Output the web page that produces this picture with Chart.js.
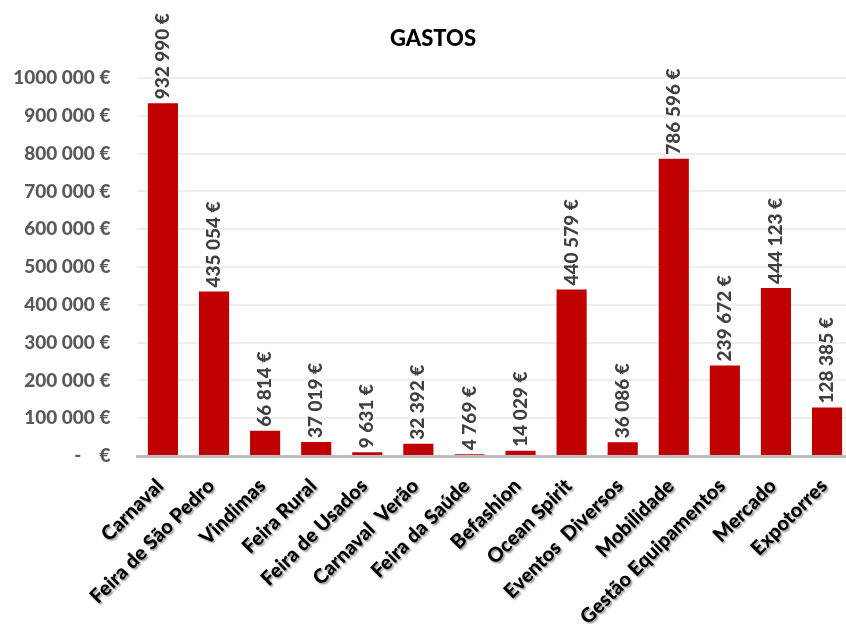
<!DOCTYPE html>
<html>
<head>
<meta charset="utf-8">
<script src="https://cdn.jsdelivr.net/npm/chart.js@4.4.1/dist/chart.umd.min.js"></script>
<style>
  html, body { margin: 0; padding: 0; background: #fff; overflow: hidden; }
  #wrap { position: relative; width: 854px; height: 624px; }
</style>
</head>
<body>
<div id="wrap"><canvas id="gastosChart"></canvas></div>
<script>
// data
const categories = ['Carnaval', 'Feira de São Pedro', 'Vindimas', 'Feira Rural', 'Feira de Usados',
    'Carnaval  Verão', 'Feira da Saúde', 'Befashion', 'Ocean Spirit', 'Eventos  Diversos',
    'Mobilidade', 'Gestão Equipamentos', 'Mercado', 'Expotorres'];
const gastos = [932990, 435054, 66814, 37019, 9631, 32392, 4769, 14029, 440579, 36086,
    786596, 239672, 444123, 128385];
const yTicks = [0, 100000, 200000, 300000, 400000, 500000, 600000, 700000, 800000, 900000, 1000000];

const FONT = 'Lato, "Open Sans", sans-serif';

function euro(v) {
    if (v === 0) return '-    €';
    let s = String(Math.round(v));
    // "1000 000 €" style: only the last group is split
    if (v >= 1000000) return s.slice(0, s.length - 3) + ' ' + s.slice(-3) + ' €';
    return s.replace(/\B(?=(\d{3})+(?!\d))/g, ' ') + ' €';
}

// value labels above the bars, rotated
const barLabels = {
    id: 'barLabels',
    afterDatasetsDraw(chart) {
        const ctx = chart.ctx;
        const meta = chart.getDatasetMeta(0);
        ctx.save();
        ctx.font = '900 19px ' + FONT;
        ctx.fillStyle = '#404040';
        ctx.textAlign = 'left';
        ctx.textBaseline = 'middle';
        meta.data.forEach((bar, i) => {
            ctx.save();
            ctx.translate(bar.x, bar.y - 4);
            ctx.rotate(-Math.PI / 2);
            ctx.fillText(euro(gastos[i]), 0, 0);
            ctx.restore();
        });
        ctx.restore();
    }
};

// title drawn by hand so it sits where the original does
const titlePlugin = {
    id: 'titlePlugin',
    afterDraw(chart) {
        const ctx = chart.ctx;
        ctx.save();
        ctx.font = '900 22px ' + FONT;
        ctx.fillStyle = '#000';
        ctx.textAlign = 'center';
        ctx.textBaseline = 'middle';
        ctx.fillText('GASTOS', 433, 39);
        ctx.restore();
    }
};

// soft shadow under the category names, nudged to match the original
const labelShadow = {
    id: 'labelShadow',
    afterLayout(chart) {
        const sc = chart.scales.x;
        if (sc._shadowWrapped) return;
        const orig = sc.drawLabels.bind(sc);
        sc.drawLabels = function (area) {
            const ctx = this.ctx;
            ctx.save();
            ctx.translate(-3, 8);
            ctx.shadowColor = 'rgba(0,0,0,0.45)';
            ctx.shadowOffsetX = 1.5;
            ctx.shadowOffsetY = 1.5;
            ctx.shadowBlur = 2;
            orig(area);
            ctx.restore();
        };
        sc._shadowWrapped = true;
    }
};

new Chart(document.getElementById('gastosChart'), {
    type: 'bar',
    data: {
        labels: categories,
        datasets: [{
            data: gastos,
            backgroundColor: '#c00000',
            barPercentage: 0.59,
            categoryPercentage: 1
        }]
    },
    options: {
        responsive: true,
        maintainAspectRatio: false,
        animation: false,
        layout: { padding: { top: 78, left: 0, right: 0, bottom: 0 } },
        plugins: {
            legend: { display: false },
            title: { display: false },
            tooltip: { enabled: false }
        },
        scales: {
            x: {
                grid: { display: false, drawTicks: false },
                border: { display: true, color: '#bfbfbf', width: 3 },
                ticks: {
                    autoSkip: false,
                    maxRotation: 45,
                    minRotation: 45,
                    padding: 10,
                    color: '#000',
                    font: { family: FONT, size: 20, weight: '900' }
                },
                afterFit(scale) { scale.height = 168; }
            },
            y: {
                min: 0,
                max: 1000000,
                afterBuildTicks(scale) { scale.ticks = yTicks.map(v => ({ value: v })); },
                grid: { color: '#efefef', lineWidth: 2, drawTicks: false },
                border: { display: false },
                ticks: {
                    padding: 27,
                    color: '#595959',
                    font: { family: FONT, size: 19, weight: '900' },
                    callback: v => euro(v)
                },
                afterFit(scale) { scale.width = 137.4; }
            }
        }
    },
    plugins: [barLabels, titlePlugin, labelShadow]
});
</script>
</body>
</html>
